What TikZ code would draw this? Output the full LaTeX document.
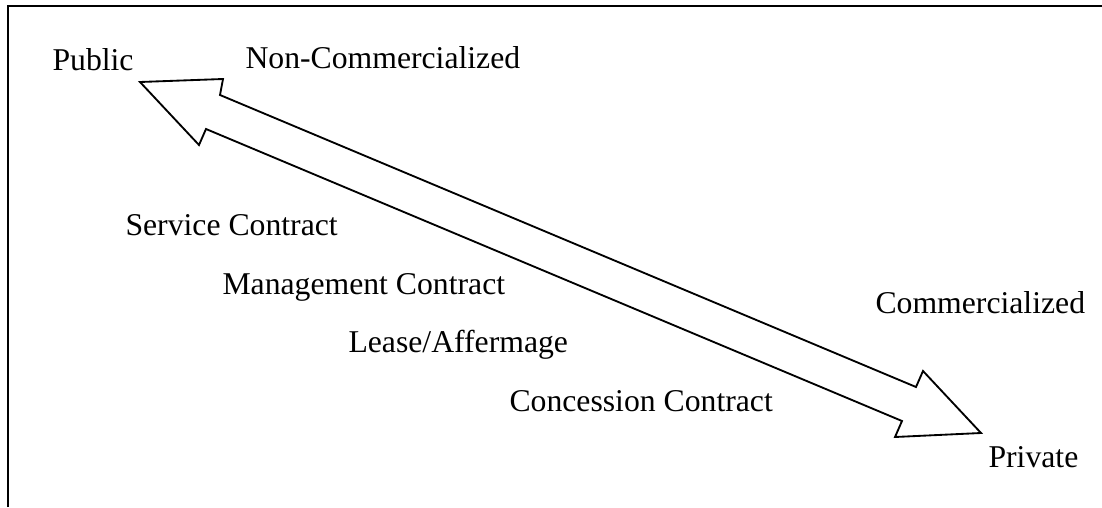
\documentclass[tikz,border=0pt]{standalone}
\usepackage{fontspec}
\setmainfont{Liberation Serif}
\usepackage{xcolor}

\begin{document}
\begin{tikzpicture}[x=0.3785pt, y=-0.3785pt,
label/.style={anchor=base west, inner sep=0pt, font=\fontsize{12}{14}\selectfont},
frameline/.style={line width=0.8pt},
bigarrow/.style={line width=0.7pt, line join=miter, fill=white}]
\par
\useasboundingbox (0,0) rectangle (1102,507);
\draw[frameline] (8,507) -- (8,6) -- (1102,6);
% double arrow
\draw[bigarrow] (140,82) -- (223,79) -- (220,95) -- (916,387) -- (923,371)
 -- (981,433) -- (895,437) -- (902,421) -- (206,129) -- (199,145) -- cycle;
\par
\node[label] (public) at (52,70) {Public};
\node[label] (noncom) at (245,68) {Non-Commercialized};
\node[label] (service) at (125,235) {Service Contract};
\node[label] (manage) at (222,294) {Management Contract};
\node[label] (lease) at (348,352) {Lease/Affermage};
\node[label] (concess) at (509,411) {Concession Contract};
\node[label] (com) at (875,313) {Commercialized};
\node[label] (private) at (988,467) {Private};
\par
\end{tikzpicture}
\end{document}
